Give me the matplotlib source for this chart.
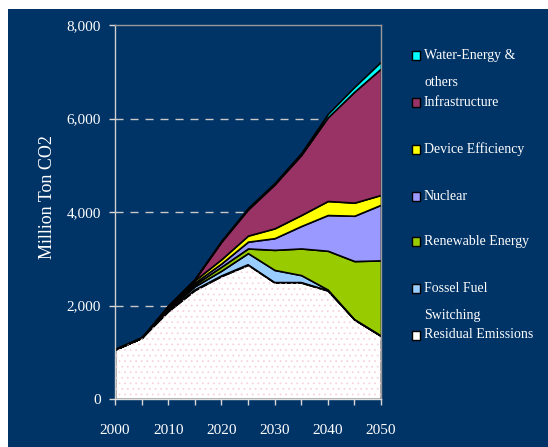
import matplotlib
matplotlib.use("Agg")
import matplotlib.pyplot as plt
from matplotlib.patches import Rectangle
import numpy as np

# Emission reduction wedges, million ton CO2
years = [2000, 2005, 2010, 2015, 2020, 2025, 2030, 2035, 2040, 2045, 2050]
residual = [1060, 1310, 1880, 2330, 2630, 2870, 2490, 2490, 2320, 1700, 1350]
fossil_switch = [0, 0, 40, 80, 115, 250, 270, 160, 20, 0, 0]
renewable = [0, 0, 30, 40, 85, 100, 430, 570, 830, 1250, 1615]
nuclear = [0, 0, 20, 40, 70, 145, 250, 480, 765, 970, 1190]
device_eff = [0, 0, 20, 50, 90, 130, 210, 235, 300, 280, 210]
infrastructure = [0, 0, 0, 20, 375, 560, 940, 1285, 1790, 2375, 2705]
water_energy = [0, 0, 10, 10, 20, 30, 30, 40, 70, 100, 145]

series_labels = ["Residual Emissions", "Fossel Fuel\nSwitching", "Renewable Energy",
                 "Nuclear", "Device Efficiency", "Infrastructure",
                 "Water-Energy &\nothers"]
series_colors = ["#FFFFFF", "#99CCFF", "#99CC00", "#9999FF", "#FFFF00",
                 "#993366", "#00FFFF"]

y_ticks = [0, 2000, 4000, 6000, 8000]
y_ticklabels = ["0", "2,000", "4,000", "6,000", "8,000"]
x_ticks = [2000, 2010, 2020, 2030, 2040, 2050]
x_ticklabels = ["2000", "2010", "2020", "2030", "2040", "2050"]

NAVY = "#003366"
SERIF = ["Liberation Serif", "DejaVu Serif"]

plt.rcParams["hatch.linewidth"] = 0.6

W, H = 548, 447
fig = plt.figure(figsize=(W / 100, H / 100), dpi=100, facecolor="white")
# navy panel, leaving a thin white margin at top and left
fig.patches.append(Rectangle((8 / W, 0), 1 - 8 / W, 1 - 9 / H,
                             transform=fig.transFigure, facecolor=NAVY,
                             edgecolor="none", zorder=-10))

ax = fig.add_axes([115 / W, 1 - 399 / H, 266 / W, 374 / H])
ax.set_facecolor(NAVY)

layers = [residual, fossil_switch, renewable, nuclear, device_eff,
          infrastructure, water_energy]
ax.stackplot(years, *layers, colors=series_colors, edgecolor="black",
             linewidth=1.2, zorder=2)

# dotted texture on the residual area
ax.fill_between(years, 0, residual, facecolor="none", edgecolor="#F7D3DE",
                hatch="...", linewidth=0, zorder=2.5)
ax.plot(years, residual, color="black", linewidth=1.2, zorder=3)

ax.set_xlim(2000, 2050)
ax.set_ylim(0, 8000)

ax.set_yticks(y_ticks)
ax.set_yticklabels(y_ticklabels, family=SERIF, fontsize=11, color="white")
ax.set_xticks(np.arange(2000, 2051, 5))
ax.set_xticklabels([str(y) if y in x_ticks else "" for y in range(2000, 2051, 5)],
                   family=SERIF, fontsize=11, color="white")
ax.tick_params(axis="y", direction="out", length=4, width=1, colors="#D8D8D8",
               labelcolor="white", pad=6)
ax.tick_params(axis="x", direction="out", length=4, width=1, colors="#D8D8D8",
               labelcolor="white", pad=14)

for yv in [2000, 4000, 6000]:
    ax.axhline(yv, color="#C8C8C8", linewidth=1, dashes=(5.8, 5), zorder=1)

ax.spines["left"].set_color("#D0D0D0")
ax.spines["bottom"].set_color("#E0E0E0")
ax.spines["top"].set_color("#9A9A9A")
ax.spines["right"].set_color("#9A9A9A")
for s in ax.spines.values():
    s.set_linewidth(1)
    s.set_zorder(4)

fig.text(48 / W, 1 - 197 / H, "Million Ton CO2", rotation=90, ha="center",
         va="center", family=SERIF, fontsize=13, color="white")

# legend, top to bottom
legend_rows = [
    (6, 55), (5, 102.7), (4, 149), (3, 196.7), (2, 241.7), (1, 288), (0, 335),
]
for idx, ypx in legend_rows:
    fig.patches.append(Rectangle((411.5 / W, 1 - (ypx + 4.5) / H), 8 / W, 9 / H,
                                 transform=fig.transFigure,
                                 facecolor=series_colors[idx],
                                 edgecolor="black", linewidth=1, zorder=5))
    lines = series_labels[idx].split("\n")
    for k, line in enumerate(lines):
        fig.text(424 / W, 1 - (ypx + k * 27) / H, line, ha="left",
                 va="center", family=SERIF, fontsize=10, color="white")

fig.savefig("out.png", dpi=100, facecolor="white")
